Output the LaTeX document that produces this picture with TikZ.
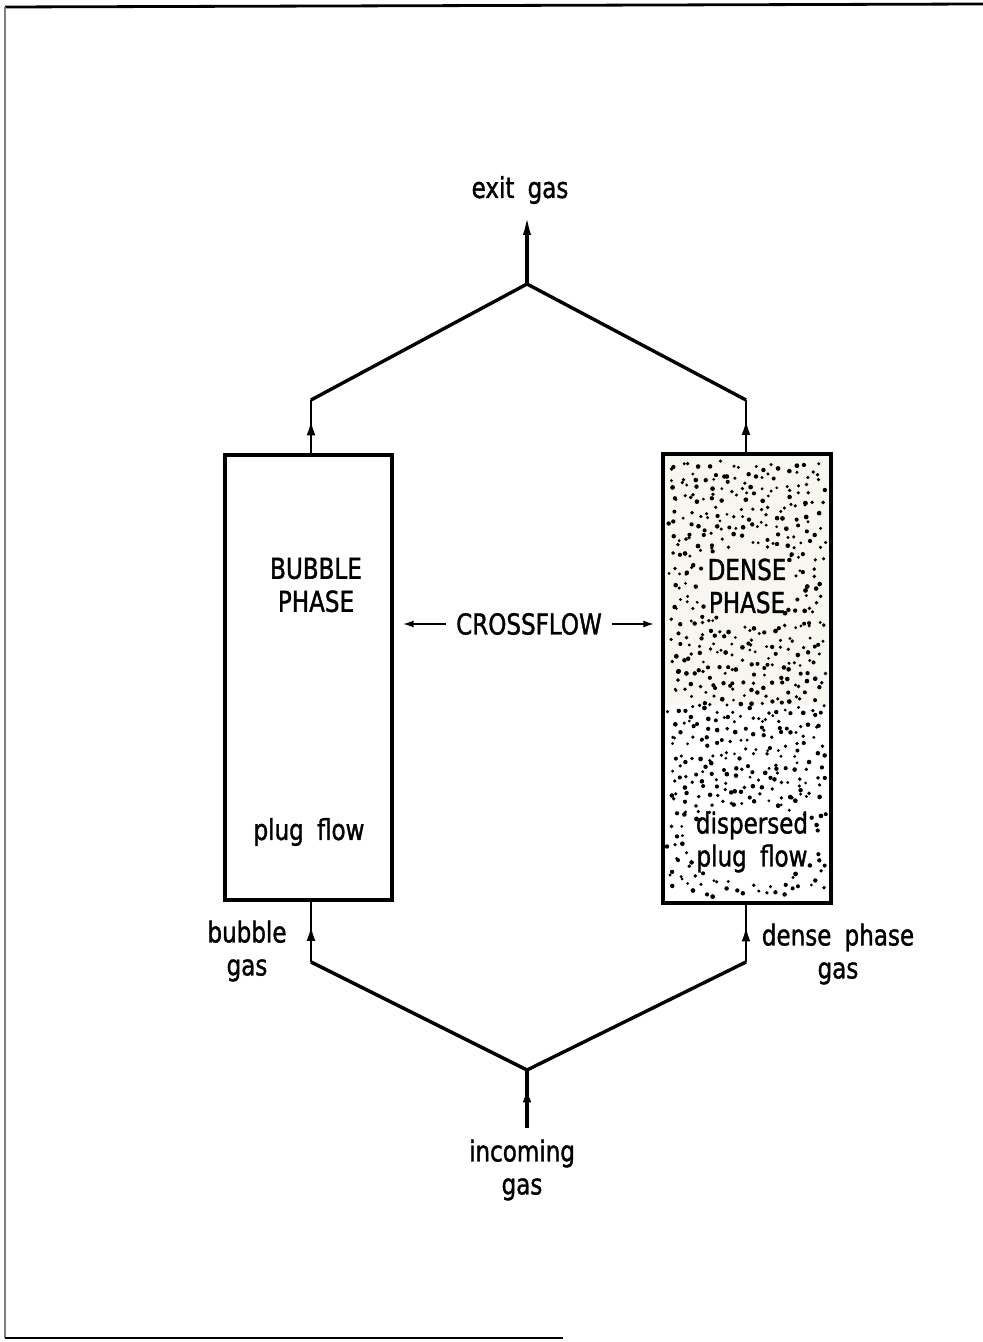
\documentclass[tikz,border=0pt]{standalone}
\usepackage{fontspec}
\setmainfont[FakeStretch=0.8,WordSpace=1.8,FakeBold=1.3]{DejaVu Sans}
\usetikzlibrary{arrows.meta,decorations.markings}
\definecolor{tint}{HTML}{F8F7EF}
\tikzset{
  lbl/.style={font=\fontsize{14.4}{16.5}\selectfont, align=center, inner sep=0pt},
  phasebox/.style={draw=black, line width=1.6pt, inner sep=0pt},
  pipe/.style={line width=1.7pt, line join=miter},
  stub/.style={line width=1.2pt},
  tipA/.style={-{Latex[length=11pt,width=4pt]}},
  midarrow/.style={postaction={decorate,decoration={markings,
      mark=at position #1 with {\arrow{Latex[length=7.5pt,width=4.4pt]}}}}},
  cfarrow/.style={line width=1.2pt,-{Latex[length=6pt,width=3.4pt]}}
}
\begin{document}
\begin{tikzpicture}[x=0.5pt,y=-0.5pt]
\useasboundingbox (0,0) rectangle (983,1342);
% page frame
\draw[line width=1.4pt] (5,7) -- (983,4);
\draw[line width=0.6pt, gray] (5,7) -- (5,1338);
\draw[line width=1.2pt] (5,1338) -- (563,1338);

% boxes
\fill[tint] (663,454) rectangle (831,705);
\node[phasebox, minimum width=83.5pt, minimum height=222.5pt] (bub) at (308.5,677.5) {};

% stipple in dense box (quasi-random R2 sequence with jitter)
\pgfmathsetseed{4711}
\foreach \i in {1,...,780}{
  \pgfmathsetmacro\ux{mod(0.5+\i*0.7548777,1)}
  \pgfmathsetmacro\uy{mod(0.5+\i*0.5698403,1)}
  \pgfmathsetmacro\xx{\ux*154+670+4*rand}
  \pgfmathsetmacro\yy{\uy*432+462+4*rand}
  \pgfmathsetmacro\ok{((((\xx-747)/50)^2+((\yy-586)/40)^2)>1) && ((((\xx-752)/67)^2+((\yy-843)/39)^2)>1)}
  \ifdim\ok pt>0.5pt
    \pgfmathsetmacro\rr{0.75+0.45*rnd}
    \fill (\xx,\yy) circle (\rr pt);
  \fi
}
\node[phasebox, minimum width=84pt, minimum height=224.5pt] (den) at (747,678.5) {};

% coordinates
\coordinate (apexT) at (527,284);
\coordinate (exitT) at (527,213);
\coordinate (cTL) at (311,400);
\coordinate (cTR) at (746,400);
\coordinate (cBL) at (311,962);
\coordinate (cBR) at (746,962);
\coordinate (apexB) at (527,1070);
\coordinate (inS) at (527,1128);

% top manifold
\draw[pipe] (cTL) -- (apexT) -- (cTR);
\draw[pipe, tipA] (apexT) -- (exitT);
\draw[stub, midarrow=0.62] (cTL |- bub.north) -- (cTL);
\draw[stub, midarrow=0.62] (cTR |- den.north) -- (cTR);

% bottom manifold
\draw[pipe] (cBL) -- (apexB) -- (cBR);
\draw[stub, midarrow=0.6] (cBL) -- (cBL |- bub.south);
\draw[stub, midarrow=0.62] (cBR) -- (cBR |- den.south);
\draw[pipe, midarrow=0.7] (inS) -- (apexB);

% crossflow
\node[lbl, inner xsep=5pt] (cf) at (529,624) {CROSSFLOW};
\draw[cfarrow, shorten >=4pt] (cf.west) -- (bub.east |- cf.west);
\draw[cfarrow, shorten >=3pt] (cf.east) -- (den.west |- cf.east);

% labels
\node[lbl] (exit) at (520,190) {exit gas};
\node[lbl] (bubt) at (316,585) {BUBBLE\\PHASE};
\node[lbl] (plug) at (309,832) {plug flow};
\node[lbl] (dent) at (747,586) {DENSE\\PHASE};
\node[lbl] (disp) at (752,842) {dispersed\\plug flow};
\node[lbl] (bgas) at (247,951) {bubble\\gas};
\node[lbl] (dgas) at (838,954) {dense phase\\gas};
\node[lbl] (ingas) at (522,1170) {incoming\\gas};
\end{tikzpicture}
\end{document}
